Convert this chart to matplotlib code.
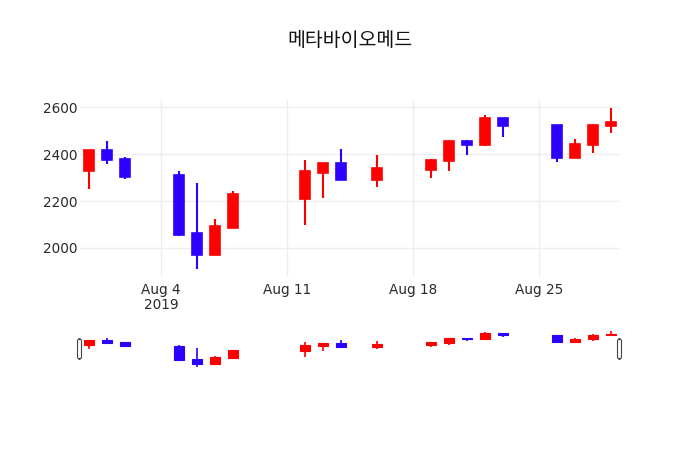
"""
Candlestick chart of 메타바이오메드 (Aug 2019) with a range-slider strip
underneath, in the look of a plotly figure.
"""

import pandas as pd
import matplotlib
matplotlib.use("Agg")
import matplotlib.pyplot as plt
import matplotlib.dates as mdates
from matplotlib.patches import FancyBboxPatch

# ──────────────────────────────────────────────
# Data
# ──────────────────────────────────────────────
DATES = [
    "2019-07-31", "2019-08-01", "2019-08-02",
    "2019-08-05", "2019-08-06", "2019-08-07", "2019-08-08",
    "2019-08-12", "2019-08-13", "2019-08-14", "2019-08-16",
    "2019-08-19", "2019-08-20", "2019-08-21", "2019-08-22", "2019-08-23",
    "2019-08-26", "2019-08-27", "2019-08-28", "2019-08-29",
]
OPEN  = [2330, 2420, 2380, 2312, 2063, 1972, 2086, 2210, 2320, 2363,
         2290, 2334, 2370, 2456, 2440, 2554, 2526, 2385, 2440, 2520]
HIGH  = [2420, 2455, 2387, 2328, 2278, 2125, 2243, 2377, 2363, 2423,
         2397, 2382, 2460, 2460, 2566, 2554, 2526, 2467, 2531, 2596]
LOW   = [2250, 2360, 2295, 2050, 1912, 1972, 2086, 2100, 2213, 2290,
         2259, 2300, 2329, 2397, 2434, 2473, 2369, 2385, 2404, 2492]
CLOSE = [2420, 2375, 2305, 2055, 1972, 2095, 2232, 2327, 2363, 2290,
         2342, 2377, 2456, 2440, 2556, 2520, 2385, 2445, 2526, 2536]

TITLE       = "메타바이오메드"
Y_TICKS     = [2000, 2200, 2400, 2600]
X_TICKS     = ["2019-08-04", "2019-08-11", "2019-08-18", "2019-08-25"]
X_TICKLABEL = ["Aug 4\n2019", "Aug 11", "Aug 18", "Aug 25"]

# ──────────────────────────────────────────────
# Style
# ──────────────────────────────────────────────
UP_COLOR   = "#FF0000"
DOWN_COLOR = "#2E00FF"
GRID_COLOR = "#EEEEEE"
TEXT_COLOR = "#2A2A2A"
W, H       = 700, 450
DPI        = 100
BODY_WIDTH = 0.58   # in days

plt.rcParams["font.family"] = ["DejaVu Sans"]


def px_rect(left, top, right, bottom):
    """Pixel box -> figure fraction [l, b, w, h]."""
    return [left / W, 1 - bottom / H, (right - left) / W, (bottom - top) / H]


def draw_candles(ax, x, lw_wick, lw_body):
    for xi, o, h, l, c in zip(x, OPEN, HIGH, LOW, CLOSE):
        color = UP_COLOR if c >= o else DOWN_COLOR
        ax.vlines(xi, l, h, color=color, linewidth=lw_wick, zorder=2)
        lo, hi = min(o, c), max(o, c)
        ax.add_patch(plt.Rectangle(
            (xi - BODY_WIDTH / 2, lo), BODY_WIDTH, hi - lo,
            facecolor=color, edgecolor=color, linewidth=lw_body, zorder=3,
        ))


dates = mdates.date2num(pd.to_datetime(DATES))
x_min = mdates.date2num(pd.Timestamp("2019-07-30 12:00"))
x_max = mdates.date2num(pd.Timestamp("2019-08-29 12:00"))
y_lim = (1876, 2632)

fig = plt.figure(figsize=(W / DPI, H / DPI), dpi=DPI)
fig.text(0.5, 1 - 41 / H, TITLE, ha="center", va="center",
         fontsize=14, color="#111111",
         family=["Noto Sans CJK KR", "DejaVu Sans"])

# main panel
ax = fig.add_axes(px_rect(80, 100, 620, 277))
draw_candles(ax, dates, 1.5, 1.2)
ax.set_xlim(x_min, x_max)
ax.set_ylim(*y_lim)
ax.set_yticks(Y_TICKS)
ax.set_yticklabels([str(v) for v in Y_TICKS])
ax.set_xticks(mdates.date2num(pd.to_datetime(X_TICKS)))
ax.set_xticklabels(X_TICKLABEL, linespacing=1.15)
ax.grid(True, color=GRID_COLOR, linewidth=1)
ax.set_axisbelow(True)
for s in ax.spines.values():
    s.set_visible(False)
ax.tick_params(length=0, labelsize=9.8, colors=TEXT_COLOR)
ax.tick_params(axis="x", pad=4)
ax.tick_params(axis="y", pad=1.5)

# range slider
sl = fig.add_axes(px_rect(80, 329, 620, 369))
draw_candles(sl, dates, 1.2, 0.8)
sl.set_xlim(x_min, x_max)
sl.set_ylim(*y_lim)
sl.set_xticks([])
sl.set_yticks([])
for s in sl.spines.values():
    s.set_visible(False)

for hx in (77.5, 617.5):
    fig.patches.append(FancyBboxPatch(
        (hx / W, 1 - 359 / H), 4 / W, 20 / H,
        boxstyle="round,pad=0,rounding_size=0.004",
        transform=fig.transFigure, facecolor="white",
        edgecolor="#444444", linewidth=0.8, zorder=5,
    ))

fig.savefig("out.png", dpi=DPI)
